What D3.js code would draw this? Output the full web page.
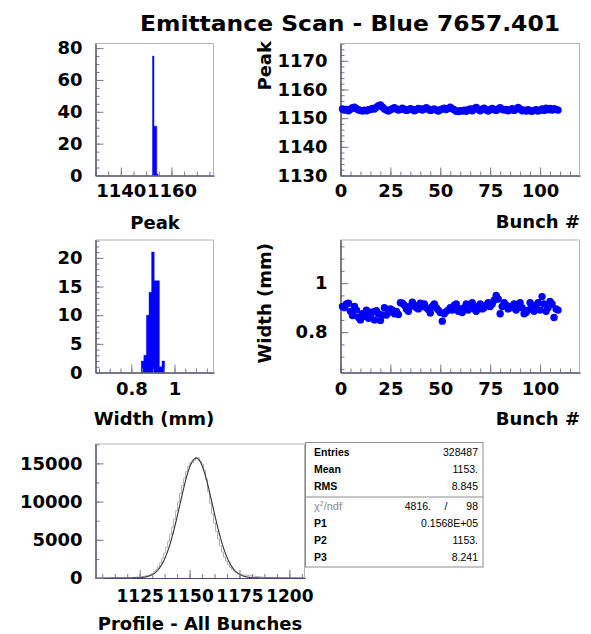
<!DOCTYPE html>
<html><head><meta charset="utf-8">
<script src="https://cdn.jsdelivr.net/npm/d3@7"></script>
<style>
body{margin:0;background:#fff;}
svg{display:block;}
</style></head><body>
<svg id="c" width="591" height="634"></svg>
<script>
// ---------------- DATA ----------------
const titleText = "Emittance Scan - Blue 7657.401";
const firstBunch = 1;
const peakValues = [
1153.2,1152.8,1153.0,1152.6,1153.1,1153.6,1153.8,1153.3,1152.9,1152.7,
1152.5,1152.8,1152.6,1152.9,1153.0,1153.4,1153.2,1153.8,1154.3,1154.6,
1153.9,1153.2,1152.8,1152.5,1152.9,1153.3,1153.6,1153.2,1152.8,1153.0,
1153.5,1153.1,1152.7,1152.9,1153.3,1153.0,1152.6,1152.9,1153.4,1153.2,
1152.8,1153.3,1153.6,1153.1,1152.7,1152.9,1153.2,1152.8,1152.5,1152.9,
1153.2,1153.5,1153.0,1153.4,1153.8,1153.3,1152.9,1152.4,1152.3,1152.6,
1152.5,1152.8,1152.4,1152.9,1153.2,1152.6,1153.4,1153.7,1153.0,1152.6,
1153.1,1153.5,1152.8,1152.5,1152.9,1153.4,1153.0,1152.7,1153.2,1153.6,
1153.1,1152.8,1153.0,1152.6,1152.9,1153.3,1152.7,1153.1,1153.7,1153.2,
1152.6,1152.8,1152.5,1152.9,1152.6,1152.4,1152.7,1152.9,1152.5,1152.8,
1153.2,1152.7,1153.5,1152.9,1153.4,1152.8,1153.3,1153.0,1152.8];
const widthValues = [
0.905,0.900,0.915,0.918,0.885,0.868,0.905,0.890,0.860,0.850,
0.875,0.865,0.890,0.857,0.870,0.882,0.850,0.888,0.875,0.848,
0.870,0.900,0.870,0.880,0.895,0.890,0.875,0.885,0.872,0.920,
0.918,0.910,0.895,0.885,0.905,0.922,0.910,0.900,0.895,0.918,
0.905,0.915,0.900,0.892,0.878,0.905,0.915,0.900,0.890,0.880,
0.845,0.875,0.885,0.890,0.900,0.890,0.910,0.915,0.885,0.895,
0.880,0.900,0.915,0.890,0.905,0.920,0.895,0.885,0.905,0.915,
0.895,0.900,0.910,0.920,0.905,0.915,0.930,0.950,0.935,0.875,
0.905,0.920,0.910,0.895,0.905,0.900,0.915,0.890,0.910,0.920,
0.900,0.875,0.880,0.890,0.920,0.905,0.885,0.910,0.920,0.890,
0.945,0.915,0.885,0.900,0.925,0.915,0.860,0.895,0.890];
// peak histogram bins
const peakBinLo = [1152.5, 1153.1, 1154.2];
const peakBinHi = [1153.1, 1154.2, 1154.7];
const peakBinCount = [75, 31, 1];
// width histogram bins
const widthBinLo = [0.846,0.858,0.870,0.882,0.894,0.906,0.918,0.930,0.942];
const widthBinHi = [0.858,0.870,0.882,0.894,0.906,0.918,0.930,0.942,0.954];
const widthBinCount = [2,3,10,14,21,16,16,1,2];
// profile histogram, 1-unit bins starting at 1110
const profileStart = 1110;
const profileCounts = [
0,5,5,10,10,15,20,25,30,40,
50,60,80,100,120,150,190,250,300,330,
440,600,820,1100,1480,2000,2600,3250,4000,4800,
5700,6650,7700,8800,9950,11050,12100,13050,13900,14600,
15000,15100,15350,15800,15750,15300,14900,14100,12900,11300,
9800,8400,7200,6100,5100,4200,3400,2750,2200,1750,
1400,1100,880,700,580,490,430,390,360,330,
300,270,240,210,180,150,120,90,70,50,
40,30,20,15,10,5,5,0];
// fit parameters & stats
const fitP1 = 15680, fitP2 = 1153.3, fitP3 = 8.241;
const statsTop = [["Entries","328487"],["Mean","1153."],["RMS","8.845"]];
const statsFit = [["P1","0.1568E+05"],["P2","1153."],["P3","8.241"]];
const chiText = ["4816.", "/", "98"];
// tick labels / axis ranges
const peakHistXTicks = [1140, 1160];
const peakHistYTicks = [0, 20, 40, 60, 80];
const bunchTicks = [0, 25, 50, 75, 100];
const peakYTicks = [1130, 1140, 1150, 1160, 1170];
const widthHistXTicks = [0.8, 1];
const widthHistYTicks = [0, 5, 10, 15, 20];
const widthYTicks = [0.8, 1];
const profileXTicks = [1125, 1150, 1175, 1200];
const profileYTicks = [0, 5000, 10000, 15000];

// ---------------- DRAW ----------------
const svg = d3.select("#c");
const FONT = "'DejaVu Sans', sans-serif";
const BLUE = "#0000ff";

function range(a, b, s) { const r = []; for (let v = a; v <= b + 1e-9; v += s) r.push(+v.toFixed(6)); return r; }

function frame(p, x, y, opt) {
  const g = svg.append("g");
  const styleAxis = sel => {
    sel.select(".domain").attr("stroke", "#4a4a6a").attr("stroke-width", 1);
    sel.selectAll(".tick line").attr("stroke", "#7a7a8a");
    sel.selectAll("text").attr("font-family", FONT).attr("font-weight", "bold")
       .attr("font-size", 18).attr("fill", "#000");
    sel.attr("font-family", null).attr("font-size", null);
  };
  g.append("g").attr("transform", `translate(0,${p.y1})`)
    .call(d3.axisBottom(x).tickValues(opt.xMinor).tickSize(-4).tickSizeOuter(0).tickFormat(""))
    .call(styleAxis);
  g.append("g").attr("transform", `translate(${p.x0},0)`)
    .call(d3.axisLeft(y).tickValues(opt.yMinor).tickSize(-4).tickSizeOuter(0).tickFormat(""))
    .call(styleAxis);
  const xa = g.append("g").attr("transform", `translate(0,${p.y1})`)
    .call(d3.axisBottom(x).tickValues(opt.xMajor).tickSize(-8).tickSizeOuter(0)
      .tickPadding(opt.xPad || 10).tickFormat(opt.xFmt || d3.format("")))
    .call(styleAxis);
  if (opt.xFont) xa.selectAll("text").attr("font-size", opt.xFont);
  g.append("g").attr("transform", `translate(${p.x0},0)`)
    .call(d3.axisLeft(y).tickValues(opt.yMajor).tickSize(-8).tickSizeOuter(0)
      .tickPadding(13).tickFormat(opt.yFmt || d3.format("")))
    .call(styleAxis);
  g.append("path").attr("fill", "none").attr("stroke", "#b4b4b4")
    .attr("d", `M${p.x0},${p.y0 + 0.5}H${p.x1 - 0.5}V${p.y1}`);
  return g;
}

function label(txt, x, y, anchor, size, rot) {
  const t = svg.append("text").text(txt).attr("font-family", FONT).attr("font-weight", "bold")
    .attr("font-size", size || 18).attr("text-anchor", anchor || "middle");
  if (rot) t.attr("transform", `translate(${x},${y}) rotate(-90)`);
  else t.attr("x", x).attr("y", y);
  return t;
}

function histArea(lo, hi, counts, x, y) {
  const pts = [];
  counts.forEach((c, i) => { pts.push([lo[i], c]); pts.push([hi[i], c]); });
  svg.append("path").datum(pts).attr("fill", BLUE).attr("stroke", BLUE).attr("stroke-width", 0.4)
    .attr("d", d3.area().x(d => x(d[0])).y0(y(0)).y1(d => y(d[1])));
}

label(titleText, 350, 31, "middle", 22).attr("textLength", 420).attr("lengthAdjust", "spacingAndGlyphs");

// ---- Panel 1: peak histogram ----
{
  const p = {x0: 95.5, x1: 214, y0: 43, y1: 175.5};
  const x = d3.scaleLinear().domain([1130, 1176.8]).range([p.x0, p.x1]);
  const y = d3.scaleLinear().domain([0, 83.2]).range([p.y1, p.y0]);
  histArea(peakBinLo, peakBinHi, peakBinCount, x, y);
  frame(p, x, y, {xMajor: peakHistXTicks, xMinor: range(1130, 1175, 5), yMajor: peakHistYTicks, yMinor: range(0, 80, 5), xPad: 9});
  label("Peak", 155, 229);
}
// ---- Panel 2: peak vs bunch ----
{
  const p = {x0: 340.5, x1: 580, y0: 43, y1: 175.5};
  const x = d3.scaleLinear().domain([0, 120]).range([p.x0, p.x1]);
  const y = d3.scaleLinear().domain([1130, 1176.2]).range([p.y1, p.y0]);
  frame(p, x, y, {xMajor: bunchTicks, xMinor: range(0, 115, 5), yMajor: peakYTicks, yMinor: range(1130, 1176, 2), xPad: 9});
  svg.append("g").selectAll("circle").data(peakValues).join("circle")
    .attr("cx", (d, i) => x(i + firstBunch)).attr("cy", d => y(d)).attr("r", 3.7).attr("fill", BLUE);
  label("Bunch #", 580, 228, "end");
  label("Peak", 271, 41, "end", 18, true);
}
// ---- Panel 3: width histogram ----
{
  const p = {x0: 95.5, x1: 214, y0: 239.5, y1: 372.5};
  const x = d3.scaleLinear().domain([0.634, 1.183]).range([p.x0, p.x1]);
  const y = d3.scaleLinear().domain([0, 23.2]).range([p.y1, p.y0]);
  histArea(widthBinLo, widthBinHi, widthBinCount, x, y);
  frame(p, x, y, {xMajor: widthHistXTicks, xMinor: range(0.65, 1.15, 0.05), yMajor: widthHistYTicks, yMinor: range(0, 23, 1), xPad: 10, xFmt: d3.format("")});
  label("Width (mm)", 154, 425);
}
// ---- Panel 4: width vs bunch ----
{
  const p = {x0: 340.5, x1: 580, y0: 239.5, y1: 372.5};
  const x = d3.scaleLinear().domain([0, 120]).range([p.x0, p.x1]);
  const y = d3.scaleLinear().domain([0.6355, 1.178]).range([p.y1, p.y0]);
  frame(p, x, y, {xMajor: bunchTicks, xMinor: range(0, 115, 5), yMajor: widthYTicks, yMinor: range(0.65, 1.15, 0.05), xPad: 10, yFmt: d3.format("")});
  svg.append("g").selectAll("circle").data(widthValues).join("circle")
    .attr("cx", (d, i) => x(i + firstBunch)).attr("cy", d => y(d)).attr("r", 3.7).attr("fill", BLUE);
  label("Bunch #", 580, 425, "end");
  label("Width (mm)", 271, 243, "end", 18, true);
}
// ---- Panel 5: profile ----
{
  const p = {x0: 95.5, x1: 305, y0: 443.5, y1: 578};
  const x = d3.scaleLinear().domain([1102.85, 1207.85]).range([p.x0, p.x1]);
  const y = d3.scaleLinear().domain([0, 17600]).range([p.y1, p.y0]);
  const g = svg.append("g");
  const steps = [];
  profileCounts.forEach((c, i) => { steps.push([profileStart + i, c]); steps.push([profileStart + i + 1, c]); });
  g.append("path").datum(steps).attr("fill", "none").attr("stroke", "#b0b0b0").attr("stroke-width", 1)
    .attr("d", d3.line().x(d => x(d[0])).y(d => y(d[1])));
  const fit = x.ticks(400).map(v => [v, fitP1 * Math.exp(-0.5 * ((v - fitP2) / fitP3) ** 2)]);
  g.append("path").datum(fit).attr("fill", "none").attr("stroke", "#333").attr("stroke-width", 1.1)
    .attr("d", d3.line().x(d => x(d[0])).y(d => y(d[1])));
  frame(p, x, y, {xMajor: profileXTicks, xMinor: range(1106.25, 1206.25, 6.25), yMajor: profileYTicks, yMinor: range(0, 17500, 2500), xPad: 12, xFont: 17});
  label("Profile - All Bunches", 200, 630);

  const b = {x0: 305.5, x1: 483, y0: 442.5, y1: 567, div: 497};
  const sb = svg.append("g");
  sb.append("rect").attr("x", b.x0).attr("y", b.y0).attr("width", b.x1 - b.x0).attr("height", b.y1 - b.y0)
    .attr("fill", "#fff").attr("stroke", "#8c8c8c");
  sb.append("line").attr("x1", b.x0).attr("x2", b.x1).attr("y1", b.div).attr("y2", b.div).attr("stroke", "#8c8c8c");
  const sf = "'Liberation Sans', sans-serif";
  const rowY = d3.scalePoint().domain(d3.range(3)).range([456, 490]);
  statsTop.forEach((r, i) => {
    sb.append("text").text(r[0]).attr("x", 314).attr("y", rowY(i)).attr("font-family", sf).attr("font-size", 10.5).attr("font-weight", "bold");
    sb.append("text").text(r[1]).attr("x", 478).attr("y", rowY(i)).attr("font-family", sf).attr("font-size", 10.5).attr("text-anchor", "end");
  });
  const rowY2 = d3.scalePoint().domain(d3.range(3)).range([527, 561]);
  sb.append("text").attr("x", 314).attr("y", 510).attr("font-family", sf).attr("font-size", 11).attr("fill", "#888")
    .html('χ<tspan dy="-4" font-size="7">2</tspan><tspan dy="4">/ndf</tspan>');
  sb.append("text").text(chiText[0]).attr("x", 431).attr("y", 510).attr("font-family", sf).attr("font-size", 10.5).attr("text-anchor", "end");
  sb.append("text").text(chiText[1]).attr("x", 446).attr("y", 510).attr("font-family", sf).attr("font-size", 10.5).attr("text-anchor", "middle");
  sb.append("text").text(chiText[2]).attr("x", 478).attr("y", 510).attr("font-family", sf).attr("font-size", 10.5).attr("text-anchor", "end");
  statsFit.forEach((r, i) => {
    sb.append("text").text(r[0]).attr("x", 314).attr("y", rowY2(i)).attr("font-family", sf).attr("font-size", 10.5).attr("font-weight", "bold");
    sb.append("text").text(r[1]).attr("x", 478).attr("y", rowY2(i)).attr("font-family", sf).attr("font-size", 10.5).attr("text-anchor", "end");
  });
}
</script></body></html>
